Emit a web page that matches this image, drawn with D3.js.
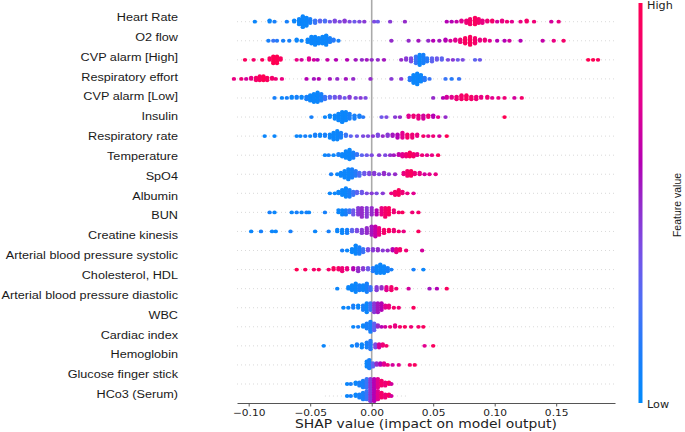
<!DOCTYPE html>
<html lang="en">
<head>
<meta charset="utf-8">
<title>shap summary</title>
<script src="https://d3js.org/d3.v7.min.js"></script>
<style>
  body{margin:0;background:#fff;}
  svg{display:block;}
  .lab{font-family:"Liberation Sans",Arial,sans-serif;fill:#1a1a1a;}
  .dv{font-family:"DejaVu Sans",sans-serif;fill:#222;}
</style>
</head>
<body>
<div id="chart"></div>
<script>
// features, top to bottom
var features = ["Heart Rate","O2 flow","CVP alarm [High]","Respiratory effort","CVP alarm [Low]",
  "Insulin","Respiratory rate","Temperature","SpO4","Albumin","BUN","Creatine kinesis",
  "Arterial blood pressure systolic","Cholesterol, HDL","Arterial blood pressure diastolic",
  "WBC","Cardiac index","Hemoglobin","Glucose finger stick","HCo3 (Serum)"]

// each entry: [shap value, feature value 0..1, how many dots sit there]
var heartRate = [[-0.095,0.05,1],[-0.083,0.05,2],[-0.079,0.1,1],[-0.069,0.1,1],[-0.063,0.05,2],[-0.059,0.05,5],[-0.056,0.05,9],[-0.053,0.05,7],[-0.050,0.1,4],[-0.046,0.2,3],[-0.042,0.3,2],[-0.038,0.25,2],[-0.034,0.35,1],[-0.030,0.4,2],[-0.026,0.4,1],[-0.022,0.45,2],[-0.018,0.4,1],[-0.014,0.35,1],[-0.010,0.4,1],[-0.006,0.45,1],[0.002,0.4,1],[0.005,0.35,1],[0.015,0.45,1],[0.027,0.5,1],[0.061,0.6,1],[0.065,0.6,1],[0.069,0.65,1],[0.073,0.75,2],[0.077,0.85,3],[0.080,0.9,5],[0.084,0.95,6],[0.087,0.9,4],[0.090,0.8,3],[0.094,0.85,2],[0.098,0.9,2],[0.102,0.7,1],[0.106,0.8,2],[0.110,0.85,1],[0.114,0.75,1],[0.121,0.8,1],[0.126,0.9,2],[0.132,0.85,1],[0.146,0.7,1],[0.152,0.8,1]]
var o2Flow = [[-0.084,0.1,1],[-0.080,0.2,1],[-0.077,0.15,1],[-0.072,0.1,1],[-0.067,0.1,1],[-0.061,0.05,2],[-0.057,0.05,1],[-0.052,0.05,3],[-0.049,0.05,6],[-0.046,0.05,7],[-0.043,0.05,5],[-0.040,0.05,6],[-0.037,0.05,8],[-0.034,0.1,4],[-0.031,0.15,2],[-0.027,0.1,1],[0.016,0.5,1],[0.030,0.5,1],[0.038,0.55,1],[0.046,0.5,1],[0.050,0.6,1],[0.055,0.55,1],[0.060,0.6,2],[0.064,0.7,1],[0.068,0.75,2],[0.072,0.85,3],[0.076,0.95,5],[0.080,0.95,7],[0.084,0.9,5],[0.088,0.8,2],[0.092,0.85,2],[0.096,0.75,1],[0.102,0.6,1],[0.108,0.6,1],[0.112,0.7,1],[0.121,0.6,1],[0.139,0.65,1],[0.148,0.8,1],[0.156,0.9,1]]
var cvpHigh = [[-0.103,0.95,1],[-0.096,0.9,1],[-0.089,0.95,1],[-0.083,0.95,2],[-0.080,1,5],[-0.077,1,5],[-0.074,0.95,2],[-0.061,0.8,1],[-0.057,0.7,1],[-0.051,0.75,2],[-0.047,0.7,1],[-0.044,0.6,1],[-0.036,0.65,1],[-0.029,0.6,1],[-0.020,0.6,1],[-0.013,0.55,1],[-0.008,0.5,1],[-0.004,0.55,1],[0.000,0.5,1],[0.005,0.5,1],[0.010,0.55,1],[0.024,0.5,1],[0.028,0.45,2],[0.032,0.4,3],[0.036,0.2,5],[0.039,0.05,7],[0.042,0.1,6],[0.045,0.15,3],[0.049,0.3,3],[0.053,0.35,2],[0.057,0.3,2],[0.062,0.4,1],[0.066,0.45,1],[0.070,0.35,1],[0.074,0.4,1],[0.084,0.3,1],[0.088,0.35,1],[0.176,1,1],[0.180,1,1],[0.184,0.95,1]]
var respEffort = [[-0.112,0.8,1],[-0.106,0.85,1],[-0.102,0.7,1],[-0.098,0.8,2],[-0.094,0.9,3],[-0.091,0.95,4],[-0.088,1,4],[-0.085,0.95,3],[-0.081,0.9,2],[-0.078,0.85,1],[-0.073,0.8,1],[-0.053,0.6,1],[-0.047,0.55,1],[-0.043,0.6,1],[-0.034,0.55,1],[-0.028,0.5,1],[-0.021,0.55,1],[-0.015,0.5,1],[-0.001,0.5,1],[0.016,0.45,1],[0.024,0.45,1],[0.031,0.15,3],[0.034,0.05,7],[0.037,0.05,9],[0.040,0.05,6],[0.043,0.15,3],[0.047,0.2,1],[0.060,0.2,1],[0.065,0.15,1],[0.071,0.2,1]]
var cvpLow = [[-0.079,0.1,1],[-0.073,0.05,1],[-0.069,0.1,1],[-0.065,0.05,2],[-0.061,0.1,2],[-0.057,0.05,2],[-0.053,0.1,3],[-0.050,0.05,5],[-0.047,0.05,7],[-0.044,0.05,8],[-0.041,0.1,6],[-0.038,0.2,3],[-0.034,0.3,2],[-0.030,0.35,2],[-0.026,0.4,2],[-0.022,0.35,1],[-0.018,0.45,2],[-0.013,0.4,1],[-0.009,0.45,1],[-0.005,0.4,1],[0.050,0.5,1],[0.058,0.6,1],[0.061,0.7,2],[0.065,0.75,2],[0.069,0.85,3],[0.073,0.9,4],[0.077,0.95,4],[0.081,0.9,3],[0.085,0.85,3],[0.089,0.8,2],[0.094,0.85,2],[0.098,0.75,1],[0.103,0.8,1],[0.108,0.85,1],[0.116,0.7,1],[0.122,0.9,1]]
var insulin = [[-0.049,0.1,1],[-0.038,0.05,1],[-0.034,0.05,2],[-0.030,0.05,3],[-0.027,0.05,5],[-0.024,0.05,7],[-0.021,0.05,6],[-0.018,0.1,4],[-0.014,0.1,3],[-0.010,0.1,2],[-0.007,0.15,1],[0.008,0.35,1],[0.012,0.4,1],[0.019,0.45,1],[0.023,0.5,1],[0.030,0.75,2],[0.034,0.85,2],[0.038,0.8,3],[0.042,0.7,3],[0.046,0.85,2],[0.050,0.6,2],[0.054,0.75,1],[0.060,0.5,1],[0.108,1,1]]
var respRate = [[-0.087,0.05,1],[-0.079,0.05,1],[-0.061,0.05,1],[-0.058,0.05,1],[-0.054,0.1,1],[-0.050,0.05,1],[-0.046,0.1,2],[-0.042,0.05,2],[-0.038,0.1,2],[-0.034,0.05,3],[-0.031,0.05,5],[-0.028,0.05,6],[-0.025,0.1,4],[-0.021,0.2,2],[-0.017,0.3,1],[-0.012,0.35,1],[-0.007,0.4,1],[-0.003,0.4,1],[0.001,0.45,1],[0.005,0.4,2],[0.009,0.5,1],[0.013,0.45,2],[0.017,0.55,2],[0.021,0.6,3],[0.025,0.75,4],[0.029,0.9,3],[0.033,0.85,3],[0.037,0.8,2],[0.042,0.9,1],[0.046,0.75,1],[0.050,0.85,1],[0.055,0.7,1],[0.061,1,1]]
var temperature = [[-0.038,0.05,1],[-0.035,0.1,1],[-0.031,0.05,1],[-0.027,0.1,2],[-0.024,0.05,3],[-0.021,0.05,6],[-0.018,0.05,8],[-0.015,0.1,5],[-0.012,0.2,2],[-0.008,0.3,1],[-0.004,0.35,1],[0.000,0.4,1],[0.006,0.45,1],[0.011,0.4,1],[0.015,0.5,1],[0.018,0.55,1],[0.022,0.65,2],[0.025,0.75,3],[0.028,0.85,3],[0.031,0.95,4],[0.034,0.9,3],[0.037,0.8,2],[0.041,0.85,1],[0.045,0.75,1],[0.049,0.8,1],[0.054,0.95,1]]
var spo4 = [[-0.033,0.1,1],[-0.028,0.05,1],[-0.025,0.05,3],[-0.022,0.05,5],[-0.019,0.05,7],[-0.016,0.1,6],[-0.013,0.15,4],[-0.010,0.25,3],[-0.006,0.35,2],[-0.002,0.4,2],[0.002,0.45,2],[0.006,0.4,1],[0.010,0.5,2],[0.014,0.45,1],[0.019,0.5,1],[0.026,0.8,2],[0.029,0.9,4],[0.032,0.95,4],[0.035,0.85,2],[0.039,0.8,2],[0.043,0.7,1],[0.047,0.75,1],[0.052,0.8,1]]
var albumin = [[-0.034,0.05,1],[-0.030,0.05,1],[-0.027,0.05,2],[-0.024,0.05,4],[-0.021,0.05,6],[-0.018,0.1,5],[-0.015,0.2,3],[-0.012,0.3,2],[-0.008,0.35,2],[-0.004,0.4,1],[0.000,0.45,1],[0.004,0.4,1],[0.009,0.45,1],[0.016,0.8,1],[0.019,0.9,3],[0.022,0.95,4],[0.025,0.85,2],[0.029,0.8,1],[0.034,0.75,1]]
var bun = [[-0.083,0.1,1],[-0.079,0.05,1],[-0.065,0.05,1],[-0.061,0.1,1],[-0.057,0.05,1],[-0.053,0.1,1],[-0.051,0.05,1],[-0.038,0.1,1],[-0.027,0.05,2],[-0.024,0.05,3],[-0.021,0.1,3],[-0.018,0.2,2],[-0.015,0.35,3],[-0.011,0.45,4],[-0.008,0.5,5],[-0.004,0.45,5],[0.000,0.5,4],[0.004,0.6,3],[0.008,0.8,4],[0.011,0.9,5],[0.014,0.95,4],[0.018,0.85,2],[0.022,0.9,1],[0.025,0.95,1],[0.033,0.85,1],[0.038,0.9,1]]
var creatine = [[-0.098,0.05,1],[-0.090,0.1,1],[-0.081,0.05,1],[-0.078,0.05,1],[-0.066,0.1,1],[-0.046,0.05,1],[-0.035,0.1,1],[-0.028,0.05,2],[-0.024,0.05,3],[-0.020,0.1,3],[-0.016,0.3,2],[-0.012,0.4,2],[-0.008,0.45,3],[-0.004,0.5,4],[0.000,0.55,6],[0.003,0.65,7],[0.006,0.8,5],[0.010,0.9,3],[0.014,0.95,2],[0.018,0.85,2],[0.022,0.9,1],[0.026,0.8,1],[0.038,0.95,1]]
var abpSys = [[-0.024,0.1,1],[-0.020,0.05,1],[-0.016,0.05,3],[-0.013,0.05,6],[-0.010,0.1,5],[-0.007,0.2,3],[-0.003,0.4,2],[0.001,0.45,2],[0.005,0.5,2],[0.009,0.45,1],[0.013,0.5,1],[0.017,0.6,2],[0.020,0.8,3],[0.023,0.9,2],[0.028,0.85,1],[0.041,0.7,1]]
var cholHdl = [[-0.061,1,1],[-0.054,0.95,1],[-0.047,0.9,1],[-0.043,0.95,1],[-0.035,0.9,1],[-0.031,0.95,2],[-0.027,0.9,2],[-0.024,0.85,3],[-0.020,0.8,2],[-0.015,0.6,2],[-0.011,0.5,3],[-0.007,0.45,2],[-0.003,0.35,2],[0.001,0.15,3],[0.004,0.05,5],[0.007,0.05,6],[0.010,0.05,5],[0.013,0.1,3],[0.016,0.1,1],[0.034,0.1,1],[0.042,0.05,1]]
var abpDia = [[-0.028,0.05,1],[-0.019,0.05,2],[-0.016,0.05,4],[-0.013,0.05,6],[-0.010,0.1,4],[-0.007,0.05,4],[-0.004,0.1,6],[-0.001,0.2,3],[0.004,0.45,3],[0.008,0.5,2],[0.012,0.75,3],[0.016,0.9,3],[0.020,0.85,1],[0.030,0.7,1],[0.047,0.55,1],[0.053,0.6,1],[0.061,0.95,1]]
var wbc = [[-0.023,0.05,1],[-0.019,0.05,1],[-0.015,0.1,2],[-0.011,0.05,2],[-0.007,0.1,3],[-0.004,0.05,5],[-0.001,0.2,4],[0.002,0.45,5],[0.005,0.55,5],[0.008,0.6,4],[0.011,0.75,2],[0.014,0.8,2],[0.018,0.9,1],[0.022,0.85,1],[0.034,0.95,1]]
var cardiac = [[-0.015,0.05,1],[-0.011,0.1,1],[-0.007,0.05,2],[-0.004,0.1,4],[-0.001,0.1,7],[0.002,0.3,5],[0.005,0.5,2],[0.008,0.6,1],[0.011,0.7,1],[0.015,0.85,1],[0.019,0.8,2],[0.023,0.9,1],[0.027,0.95,1],[0.032,0.85,1],[0.038,0.9,1],[0.042,0.95,1]]
var hemoglobin = [[-0.039,0.05,1],[-0.016,0.05,1],[-0.012,0.1,2],[-0.008,0.05,3],[-0.004,0.1,4],[-0.001,0.15,6],[0.003,0.4,3],[0.006,0.7,3],[0.009,0.85,2],[0.012,0.9,1],[0.043,0.75,1],[0.050,0.95,1]]
var glucose = [[-0.004,0.05,4],[-0.002,0.1,6],[0.001,0.3,3],[0.004,0.5,2],[0.007,0.6,2],[0.010,0.75,2],[0.013,0.85,1],[0.017,0.7,1],[0.022,0.75,1],[0.031,0.9,1],[0.035,0.95,1]]
var hco3 = [[-0.020,0.05,1],[-0.017,0.1,1],[-0.013,0.05,2],[-0.010,0.1,3],[-0.007,0.1,5],[-0.004,0.2,6],[-0.001,0.45,7],[0.002,0.6,7],[0.005,0.75,6],[0.008,0.9,4],[0.011,0.85,3],[0.014,0.95,2],[0.016,0.7,1]]

var rows = [heartRate,o2Flow,cvpHigh,respEffort,cvpLow,insulin,respRate,temperature,spo4,albumin,
  bun,creatine,abpSys,cholHdl,abpDia,wbc,cardiac,hemoglobin,glucose,hco3]

var xTicks = [-0.10,-0.05,0.00,0.05,0.10,0.15]

// colour map stops (low -> high)
var cStops = [0,0.13,0.26,0.38,0.51,0.6,0.76,1]
var cColors = ["#008bfb","#1e7dfa","#506ef5","#7850e6","#9628c8","#b400b4","#e6008c","#ff0052"]

var w = 685, h = 432
var sx = 1.12   // the picture is a little wider than tall, text too

var x = d3.scaleLinear().domain([-0.1095,0.1978]).range([237,615])
var dotY = d3.scaleLinear().domain([0,19]).range([21.7,384])
var labelY = d3.scaleLinear().domain([0,19]).range([17,394])
var step = dotY(1)-dotY(0)
var axisY = 403
var cScale = d3.scaleLinear().domain(cStops).range(cColors).interpolate(d3.interpolateRgb)

var svg = d3.select("#chart").append("svg").attr("width",w).attr("height",h)

// beeswarm offsets, same idea as shap: 100 bins per row, alternate up/down
function swarm(pts){
  var lo = d3.min(pts,function(d){return d.v}), hi = d3.max(pts,function(d){return d.v})
  pts.forEach(function(p,k){ p.q = Math.round(100*(p.v-lo)/(hi-lo+1e-8)); p.k = k })
  var order = pts.slice().sort(function(a,b){ return a.q-b.q || a.k-b.k })
  var layer = 0, last = -1
  order.forEach(function(p){
    if(p.q != last) layer = 0
    p.off = Math.ceil(layer/2)*((layer%2)*2-1)
    layer++
    last = p.q
  })
  var m = d3.max(pts,function(p){return p.off})+1
  pts.forEach(function(p){ p.off = p.off*0.9*0.4/m })
  return pts
}

function expand(row){
  var pts = []
  row.forEach(function(d){ for(var j=0;j<d[2];j++) pts.push({v:d[0],fv:d[1]}) })
  return swarm(pts)
}

var swarms = rows.map(expand)

// grid lines
svg.append("g").selectAll("line").data(features).enter().append("line")
  .attr("x1",x.range()[0]).attr("x2",x.range()[1])
  .attr("y1",function(d,i){return dotY(i)}).attr("y2",function(d,i){return dotY(i)})
  .attr("stroke","#cfcfcf").attr("stroke-width",0.8).attr("stroke-dasharray","1,3")
// the extra copy of the last row that sits under it in the picture
var echoY = 396
svg.append("line").attr("x1",x(-0.038)).attr("x2",x(0.029)).attr("y1",echoY).attr("y2",echoY)
  .attr("stroke","#cfcfcf").attr("stroke-width",0.8).attr("stroke-dasharray","1,3")

// zero line
svg.append("line").attr("x1",x(0)).attr("x2",x(0)).attr("y1",0).attr("y2",axisY)
  .attr("stroke","#aaa").attr("stroke-width",1.6)

// dots
var dots = svg.append("g")
swarms.forEach(function(pts,i){
  dots.selectAll(null).data(pts).enter().append("ellipse")
    .attr("cx",function(d){return x(d.v)})
    .attr("cy",function(d){return dotY(i)-d.off*step})
    .attr("rx",2.2).attr("ry",1.9)
    .attr("fill",function(d){return cScale(d.fv)})
})
dots.selectAll(null).data(swarms[19]).enter().append("ellipse")
  .attr("cx",function(d){return x(d.v)})
  .attr("cy",function(d){return echoY-d.off*step})
  .attr("rx",2.2).attr("ry",1.9)
  .attr("fill",function(d){return cScale(d.fv)})

// feature names
svg.append("g").selectAll("text").data(features).enter().append("text")
  .attr("class","lab")
  .attr("transform",function(d,i){return "translate(178,"+labelY(i)+") scale("+sx+",1)"})
  .attr("dy","0.36em").attr("text-anchor","end")
  .style("font-size","11.3px")
  .text(function(d){return d})

// x axis
var ax = svg.append("g").attr("transform","translate(0,"+axisY+")")
  .call(d3.axisBottom(x).tickValues(xTicks).tickFormat(d3.format(".2f")).tickSize(3.5).tickSizeOuter(0))
ax.select(".domain").attr("stroke","#555")
ax.selectAll(".tick line").attr("stroke","#555")
ax.selectAll(".tick text").attr("class","dv").attr("fill","#222")
  .style("font-size","9.5px").attr("transform","scale("+sx+",1)")

svg.append("text").attr("class","dv")
  .attr("transform","translate(426,428) scale("+sx+",1)")
  .attr("text-anchor","middle").style("font-size","12.4px")
  .text("SHAP value (impact on model output)")

// colour bar
var grad = svg.append("defs").append("linearGradient").attr("id","cb")
  .attr("x1",0).attr("y1",1).attr("x2",0).attr("y2",0)
grad.selectAll("stop").data(d3.range(0,1.0001,0.05)).enter().append("stop")
  .attr("offset",function(d){return d}).attr("stop-color",function(d){return cScale(d)})
svg.append("rect").attr("x",638.5).attr("y",3).attr("width",4).attr("height",400).attr("fill","url(#cb)")

svg.append("text").attr("class","dv").attr("transform","translate(647,8.5) scale("+sx+",1)")
  .style("font-size","10px").text("High")
svg.append("text").attr("class","dv").attr("transform","translate(647,407.5) scale("+sx+",1)")
  .style("font-size","10px").text("Low")
svg.append("text").attr("class","lab")
  .attr("transform","translate(681,205) scale("+sx+",1) rotate(-90)")
  .attr("text-anchor","middle").style("font-size","10.5px").text("Feature value")
</script>
</body>
</html>
